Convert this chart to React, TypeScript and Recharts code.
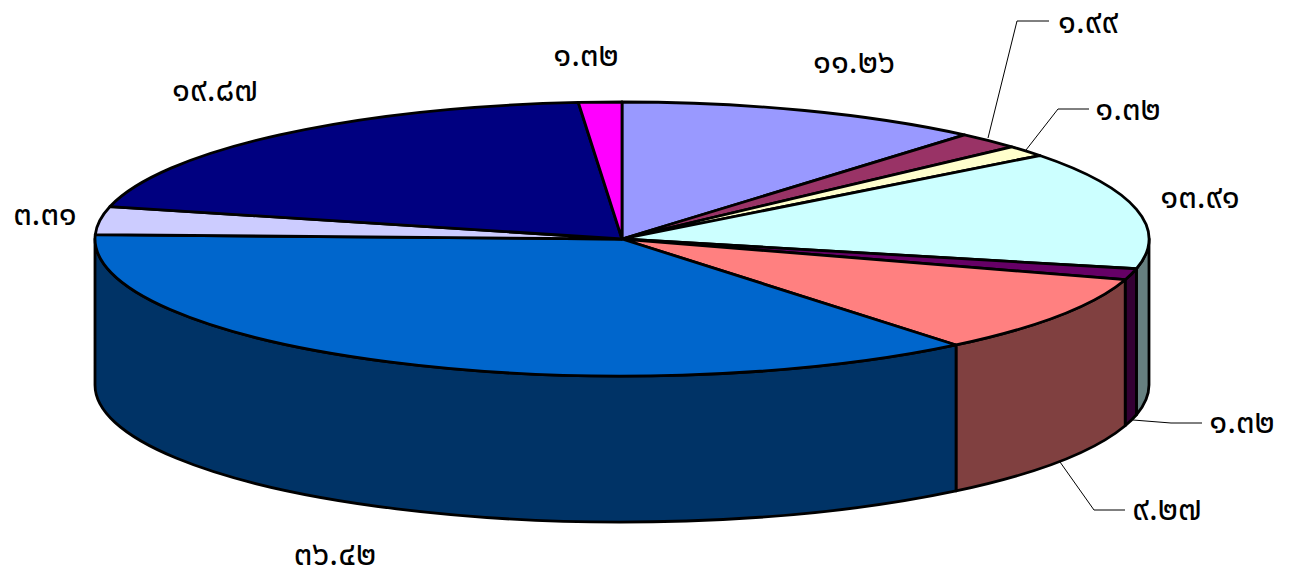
import { PieChart, Pie } from 'recharts';

const values = [11.26, 1.99, 1.32, 13.91, 1.32, 9.27, 36.42, 3.31, 19.87, 1.32];
const labels = ['๑๑.๒๖', '๑.๙๙', '๑.๓๒', '๑๓.๙๑', '๑.๓๒', '๙.๒๗', '๓๖.๔๒', '๓.๓๑', '๑๙.๘๗', '๑.๓๒'];
const topColors = ['#9999FF', '#993366', '#FFFFCC', '#CCFFFF', '#660066', '#FF8080', '#0066CC', '#CCCCFF', '#000080', '#FF00FF'];
const wallColors = ['#4D4D80', '#4D1A33', '#808066', '#668080', '#330033', '#804040', '#003366', '#666680', '#000040', '#800080'];

const data = values.map((value, i) => ({ value, label: labels[i] }));

const CX = 622;
const CY = 239;
const RX = 527;
const RY = 137;
const DEPTH = 146;

// label centre, then optional leader line points
const labelLayout: { x: number; y: number; leader?: number[][] }[] = [
  { x: 854, y: 63 },
  { x: 1088, y: 23, leader: [[988, 138], [1017, 21], [1049, 21]] },
  { x: 1128, y: 110, leader: [[1026, 150], [1058, 109], [1089, 109]] },
  { x: 1200, y: 198 },
  { x: 1242, y: 423, leader: [[1133, 420], [1171, 423], [1202, 423]] },
  { x: 1167, y: 510, leader: [[1060, 462], [1094, 510], [1125, 510]] },
  { x: 335, y: 555 },
  { x: 45, y: 215 },
  { x: 215, y: 91 },
  { x: 586, y: 56 },
];

const px = (deg: number) => CX + RX * Math.cos((deg * Math.PI) / 180);
const py = (deg: number) => CY - RY * Math.sin((deg * Math.PI) / 180);

function TopSlice(props: any) {
  const { startAngle, endAngle, index } = props;
  const large = Math.abs(startAngle - endAngle) > 180 ? 1 : 0;
  const d = `M${CX},${CY} L${px(startAngle)},${py(startAngle)} A${RX},${RY} 0 ${large} 1 ${px(endAngle)},${py(endAngle)} Z`;
  return <path d={d} fill={topColors[index]} stroke="#000" strokeWidth={2.8} strokeLinejoin="round" />;
}

function WallSlice(props: any) {
  const { startAngle, endAngle, index } = props;
  // only the part of the rim facing the viewer, math angles -180..0
  const a = Math.min(startAngle, 0);
  const b = Math.max(endAngle, -180);
  if (a <= b) return <g />;
  const d =
    `M${px(a)},${py(a)} A${RX},${RY} 0 0 1 ${px(b)},${py(b)} ` +
    `L${px(b)},${py(b) + DEPTH} A${RX},${RY} 0 0 0 ${px(a)},${py(a) + DEPTH} Z`;
  return <path d={d} fill={wallColors[index]} stroke="#000" strokeWidth={2.8} strokeLinejoin="round" />;
}

function SliceLabel(props: any) {
  const { index, payload } = props;
  const pos = labelLayout[index];
  const text = payload?.label ?? labels[index];
  return (
    <g>
      {pos.leader && (
        <polyline points={pos.leader.map((p) => p.join(',')).join(' ')} fill="none" stroke="#000" strokeWidth={1} />
      )}
      <text x={pos.x} y={pos.y} textAnchor="middle" dominantBaseline="central" fontFamily="'Noto Sans Thai', 'Noto Sans', 'DejaVu Sans', sans-serif" fontSize={33} fill="#000">
        {text}
      </text>
    </g>
  );
}

export default function App() {
  return (
    <div style={{ position: 'absolute', left: 0, top: 0, width: 1290, height: 570, background: '#fff' }}>
      <PieChart width={1290} height={570} margin={{ top: 0, right: 0, bottom: 0, left: 0 }}>
        <Pie
          data={data}
          dataKey="value"
          cx={CX}
          cy={CY}
          outerRadius={RX}
          startAngle={90}
          endAngle={-270}
          paddingAngle={0}
          shape={WallSlice}
          isAnimationActive={false}
        />
        <Pie
          data={data}
          dataKey="value"
          cx={CX}
          cy={CY}
          outerRadius={RX}
          startAngle={90}
          endAngle={-270}
          paddingAngle={0}
          shape={TopSlice}
          label={SliceLabel}
          labelLine={false}
          isAnimationActive={false}
        />
      </PieChart>
    </div>
  );
}
